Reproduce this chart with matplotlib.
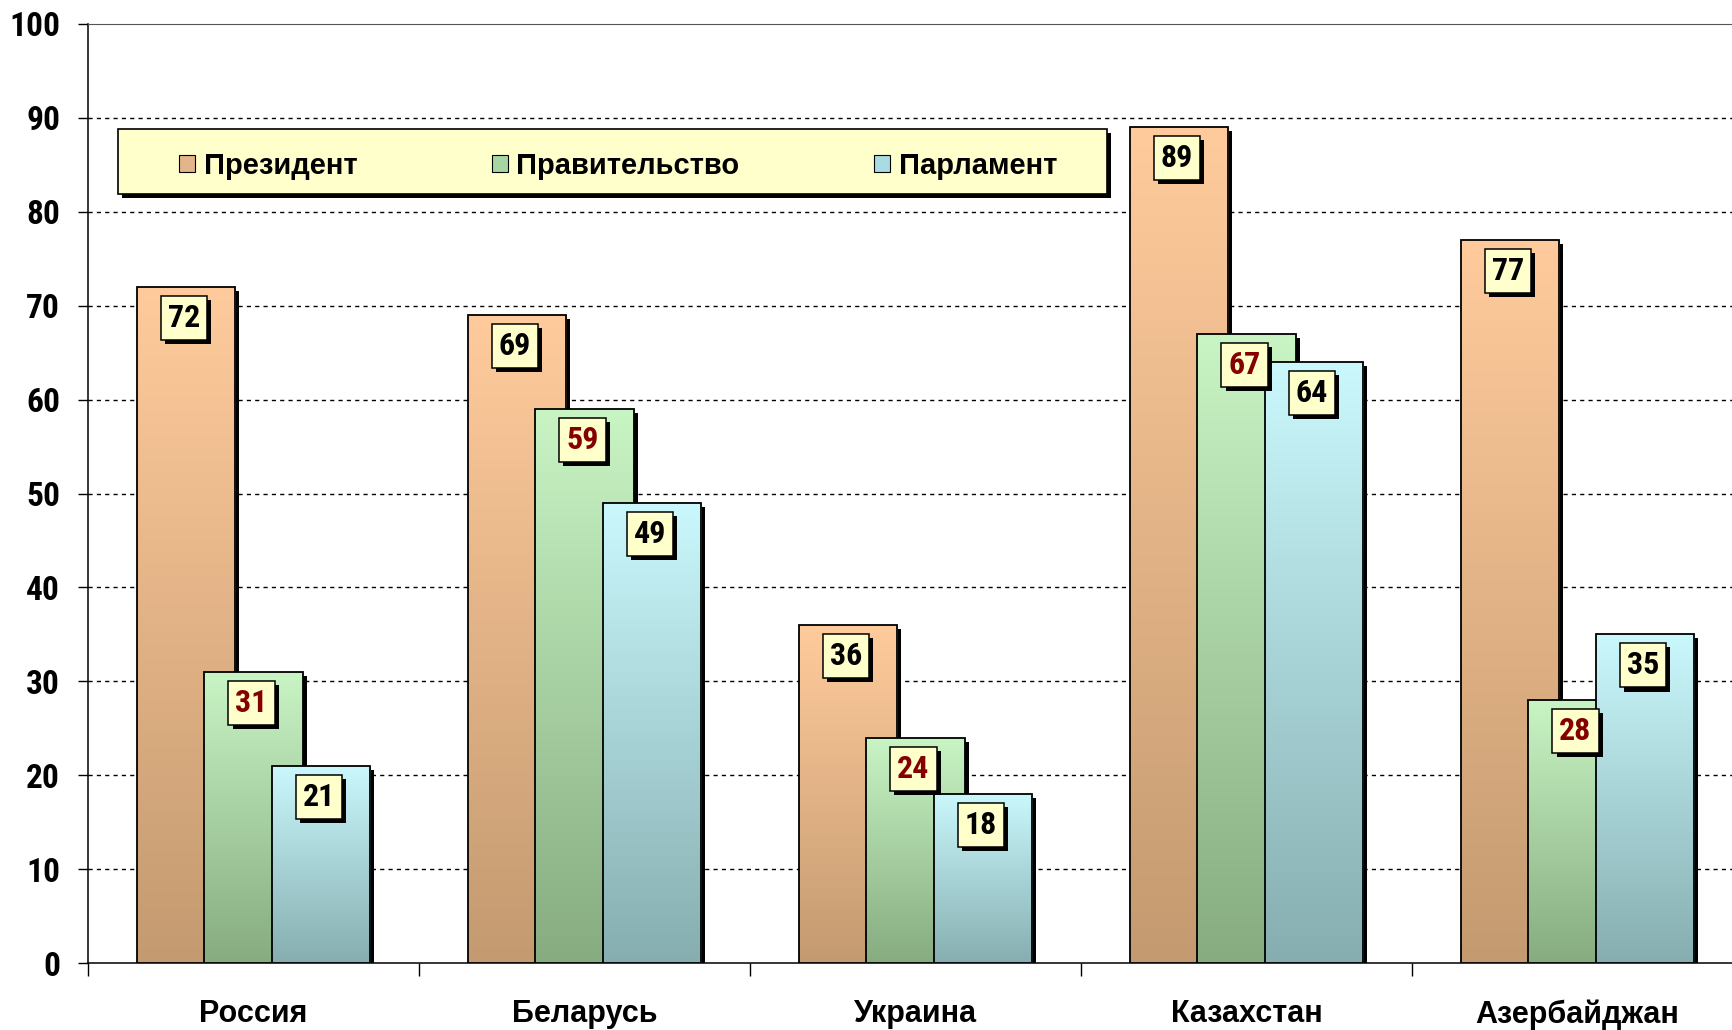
import matplotlib
matplotlib.use("Agg")
import matplotlib.pyplot as plt
import matplotlib.patheffects as pe
import matplotlib.transforms as mtransforms
import numpy as np
from matplotlib.colors import LinearSegmentedColormap
from matplotlib.patches import Patch, Rectangle

countries = ['Россия', 'Беларусь', 'Украина', 'Казахстан', 'Азербайджан']
series_names = ['Президент', 'Правительство', 'Парламент']
president = [72, 69, 36, 89, 77]
government = [31, 59, 24, 67, 28]
parliament = [21, 49, 18, 64, 35]
y_ticks = list(range(0, 101, 10))

# gradient colours for each series: (bottom, top)
grad_colors = [('#C49A70', '#FFCB9C'), ('#86AC80', '#C9F4C4'), ('#86AEB0', '#CAF8FC')]
legend_colors = ['#E4B48A', '#A8D6A2', '#A8DCE2']
label_colors = ['black', '#850000', 'black']

NARROW = ['Roboto Condensed', 'Liberation Sans', 'DejaVu Sans']
WIDE = ['Liberation Sans', 'DejaVu Sans']

fig = plt.figure(figsize=(17.33, 10.30), dpi=100)
ax = fig.add_axes([88 / 1733, 1 - 963 / 1030, 1655 / 1733, 939 / 1030])

n = len(countries)
centers = np.arange(n) + 0.5
step = 0.204
width = 0.297
shadow_shift = mtransforms.ScaledTranslation(4 / 100, -4 / 100, fig.dpi_scale_trans)
grad = np.linspace(0, 1, 256).reshape(-1, 1)

for k, values in enumerate([president, government, parliament]):
    z = 3 + k * 0.1
    x = centers + (k - 1) * step
    # black drop shadow, then gradient fill clipped to the outlined bar
    shadows = ax.bar(x, values, width, color='black', zorder=z)
    for p in shadows:
        p.set_transform(ax.transData + shadow_shift)
    bars = ax.bar(x, values, width, facecolor='none', edgecolor='black',
                  linewidth=1.3, zorder=z + 0.02)
    cmap = LinearSegmentedColormap.from_list('s%d' % k, grad_colors[k])
    for p in bars:
        x0, h = p.get_x(), p.get_height()
        im = ax.imshow(grad, extent=(x0, x0 + p.get_width(), 0, h), origin='lower',
                       cmap=cmap, aspect='auto', zorder=z + 0.01)
        im.set_clip_path(p)
    for xi, v in zip(x, values):
        t = ax.annotate(str(v), xy=(xi, v), xytext=(-2, -31), textcoords='offset pixels',
                        ha='center', va='center', fontsize=23, fontweight='bold',
                        family=NARROW, color=label_colors[k], zorder=10,
                        bbox=dict(boxstyle='square,pad=0.22', fc='#FFFFCC', ec='black', lw=1.1))
        t.get_bbox_patch().set_path_effects(
            [pe.SimplePatchShadow(offset=(3, -3), shadow_rgbFace='black', alpha=1), pe.Normal()])

ax.set_xlim(0, n)
ax.set_ylim(0, 100)
ax.set_axisbelow(True)

ax.set_yticks(y_ticks)
ax.set_yticklabels([str(t) for t in y_ticks], fontsize=24, fontweight='bold', family=NARROW)
ax.tick_params(axis='y', direction='out', length=7, width=1, pad=13)

ax.set_xticks(np.arange(n + 1))
ax.set_xticklabels([])
ax.tick_params(axis='x', which='major', direction='out', length=9, width=1)
ax.set_xticks(centers, minor=True)
ax.set_xticklabels(countries, minor=True, fontsize=22, fontweight='bold', family=WIDE)
ax.tick_params(axis='x', which='minor', length=0, pad=26)

for yv in y_ticks[1:-1]:
    ax.axhline(yv, color='black', linewidth=1, linestyle=(0, (3, 3)), zorder=1)

ax.spines['right'].set_visible(False)
ax.spines['top'].set_color('#555555')
for s in ['left', 'bottom']:
    ax.spines[s].set_linewidth(1.1)

# legend frame drawn by hand so it can be wider than its entries
frame = Rectangle((118 / 1733, 1 - 194 / 1030), 989 / 1733, 65 / 1030,
                  transform=fig.transFigure, facecolor='#FFFFCC', edgecolor='black',
                  linewidth=1.2, zorder=4)
frame.set_path_effects([pe.SimplePatchShadow(offset=(3, -3), shadow_rgbFace='black', alpha=1),
                        pe.Normal()])
fig.add_artist(frame)

handles = [Patch(facecolor=c, edgecolor='black', linewidth=0.8) for c in legend_colors]
leg = fig.legend(handles, series_names, loc='center',
                 bbox_to_anchor=(618 / 1733, 1 - 166 / 1030), ncol=3, frameon=False,
                 prop={'family': WIDE, 'weight': 'bold', 'size': 21},
                 handlelength=0.55, handleheight=0.55, handletextpad=0.3, columnspacing=4.6)
leg.set_zorder(5)

fig.savefig('out.png', dpi=100)
